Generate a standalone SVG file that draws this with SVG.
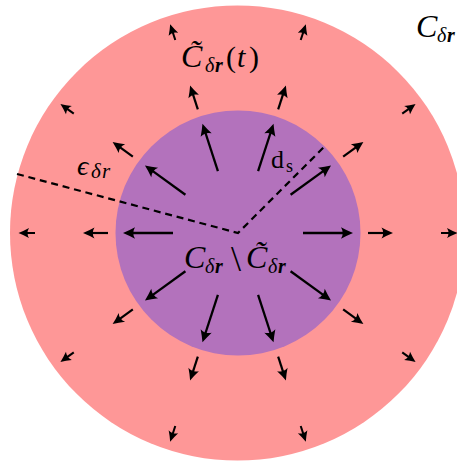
<svg xmlns="http://www.w3.org/2000/svg" xmlns:xlink="http://www.w3.org/1999/xlink" width="457" height="461" viewBox="0 0 457 461">
<style>
.m{font-family:"Liberation Serif","DejaVu Serif",serif;fill:#000;}
.i{font-style:italic;}
.b{font-weight:bold;font-style:italic;}
.arr line{stroke:#000;stroke-linecap:butt;}
.arr path{fill:#000;stroke:none;}
</style>
<defs>
<g id="ai" class="arr"><line x1="65" y1="0" x2="107" y2="0" stroke-width="2.3"/><path d="M115,0 Q109,-2.5 103,-5.8 Q106.5,0 103,5.8 Q109,2.5 115,0Z"/></g>
<g id="am" class="arr"><line x1="130" y1="0" x2="147" y2="0" stroke-width="2.2"/><path d="M155,0 Q149,-2.4 143.5,-5.5 Q147,0 143.5,5.5 Q149,2.4 155,0Z"/></g>
<g id="ao" class="arr"><line x1="203" y1="0" x2="212" y2="0" stroke-width="2"/><path d="M219.5,0 Q214,-2.2 209,-5 Q212,0 209,5 Q214,2.2 219.5,0Z"/></g>
</defs>
<g id="outer-region"><circle cx="237.5" cy="233" r="227.5" fill="#fe9797"/></g>
<g id="inner-region"><circle cx="238" cy="233" r="122.5" fill="#b372bc"/></g>
<g id="connectors">
<path d="M17,174 L238,233 L324,147" fill="none" stroke="#000" stroke-width="2.2" stroke-dasharray="7 4.8"/>
<g transform="translate(238 233)">
<use xlink:href="#ai" transform="rotate(0)"/><use xlink:href="#ai" transform="rotate(-36)"/><use xlink:href="#ai" transform="rotate(-72)"/><use xlink:href="#ai" transform="rotate(-108)"/><use xlink:href="#ai" transform="rotate(-144)"/><use xlink:href="#ai" transform="rotate(-180)"/><use xlink:href="#ai" transform="rotate(-216)"/><use xlink:href="#ai" transform="rotate(-252)"/><use xlink:href="#ai" transform="rotate(-288)"/><use xlink:href="#ai" transform="rotate(-324)"/>
<use xlink:href="#am" transform="rotate(0)"/><use xlink:href="#am" transform="rotate(-36)"/><use xlink:href="#am" transform="rotate(-72)"/><use xlink:href="#am" transform="rotate(-108)"/><use xlink:href="#am" transform="rotate(-144)"/><use xlink:href="#am" transform="rotate(-180)"/><use xlink:href="#am" transform="rotate(-216)"/><use xlink:href="#am" transform="rotate(-252)"/><use xlink:href="#am" transform="rotate(-288)"/><use xlink:href="#am" transform="rotate(-324)"/>
<use xlink:href="#ao" transform="rotate(0)"/><use xlink:href="#ao" transform="rotate(-36)"/><use xlink:href="#ao" transform="rotate(-72)"/><use xlink:href="#ao" transform="rotate(-108)"/><use xlink:href="#ao" transform="rotate(-144)"/><use xlink:href="#ao" transform="rotate(-180)"/><use xlink:href="#ao" transform="rotate(-216)"/><use xlink:href="#ao" transform="rotate(-252)"/><use xlink:href="#ao" transform="rotate(-288)"/><use xlink:href="#ao" transform="rotate(-324)"/>
</g>
</g>
<g id="label-tilde-c-t">
<text class="m" font-size="32"><tspan class="i" x="181" y="67">C̃</tspan><tspan class="i" x="205" y="72" font-size="20">δ</tspan><tspan class="b" x="215" y="72" font-size="20">r</tspan><tspan x="226" y="67" font-size="30">(</tspan><tspan class="i" x="237" y="67" font-size="30">t</tspan><tspan x="249" y="67" font-size="30">)</tspan></text>
</g>
<g id="label-c-outer">
<text class="m" font-size="32"><tspan class="i" x="416" y="37">C</tspan><tspan class="i" x="437" y="42" font-size="20">δ</tspan><tspan class="b" x="447" y="42" font-size="20">r</tspan></text>
</g>
<g id="label-epsilon">
<text class="m" font-size="28"><tspan class="i" x="77" y="175">ϵ</tspan><tspan class="i" x="91" y="178" font-size="21">δ</tspan><tspan class="i" x="102" y="178" font-size="21">r</tspan></text>
</g>
<g id="label-ds">
<text class="m" font-size="26"><tspan x="271" y="168">d</tspan><tspan x="286" y="172" font-size="18">s</tspan></text>
</g>
<g id="label-difference">
<text class="m" font-size="32"><tspan class="i" x="184" y="268">C</tspan><tspan class="i" x="205" y="273" font-size="20">δ</tspan><tspan class="b" x="215" y="273" font-size="20">r</tspan><tspan x="231" y="271" font-size="36">\</tspan><tspan class="i" x="246" y="268">C̃</tspan><tspan class="i" x="268" y="273" font-size="20">δ</tspan><tspan class="b" x="278" y="273" font-size="20">r</tspan></text>
</g>
</svg>
